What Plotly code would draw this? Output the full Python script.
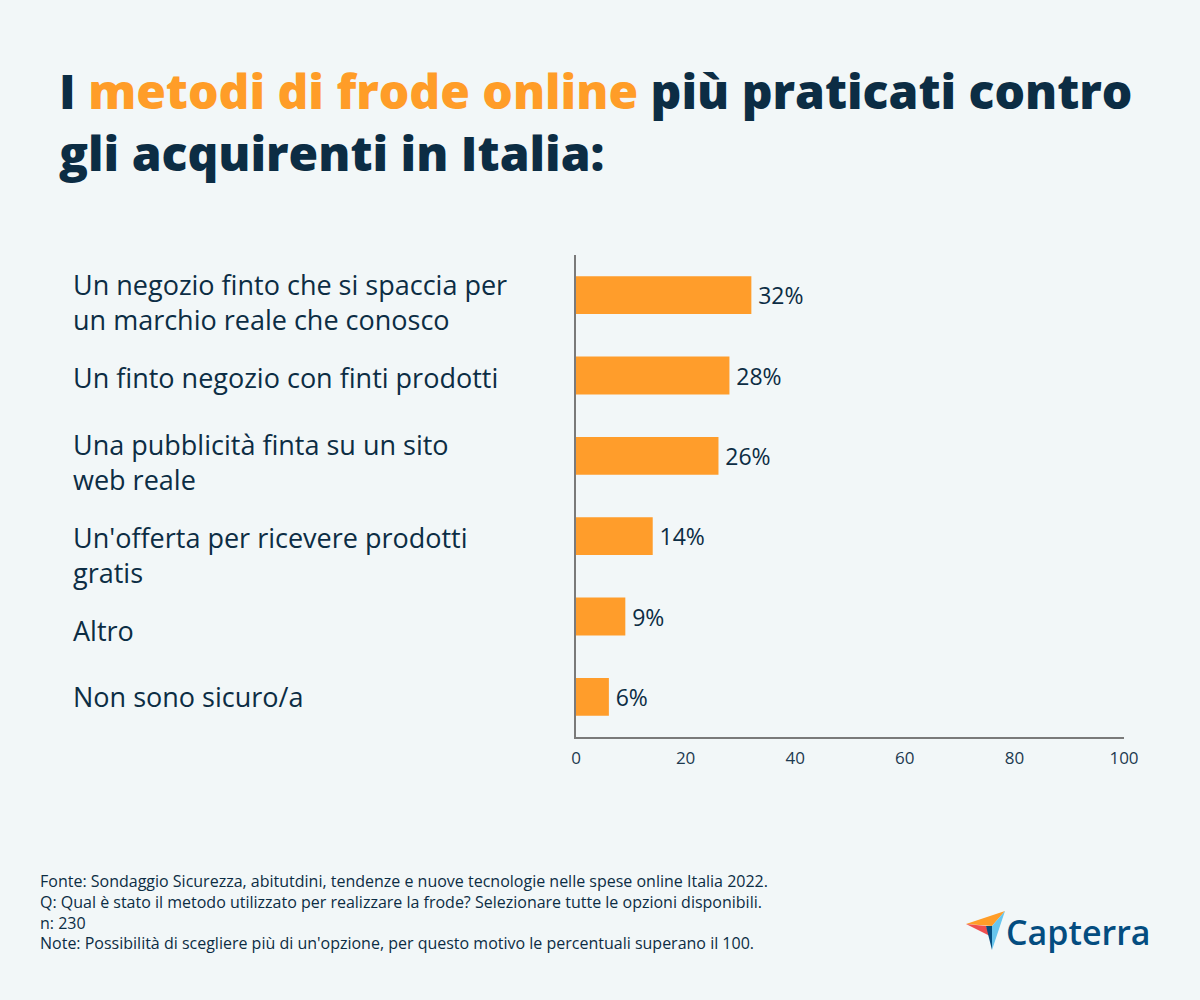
import plotly.graph_objects as go

categories = [
    "Un negozio finto che si spaccia per<br>un marchio reale che conosco",
    "Un finto negozio con finti prodotti",
    "Una pubblicità finta su un sito<br>web reale",
    "Un'offerta per ricevere prodotti<br>gratis",
    "Altro",
    "Non sono sicuro/a",
]
values = [32, 28, 26, 14, 9, 6]
tick_vals = [0, 20, 40, 60, 80, 100]

title_line1 = "I <span style='color:#ff9d28'>metodi di frode online</span> più praticati contro"
title_line2 = "gli acquirenti in Italia:"
footer_lines = [
    "Fonte: Sondaggio Sicurezza, abitutdini, tendenze e nuove tecnologie nelle spese online Italia 2022.",
    "Q: Qual è stato il metodo utilizzato per realizzare la frode? Selezionare tutte le opzioni disponibili.",
    "n: 230",
    "Note: Possibilità di scegliere più di un'opzione, per questo motivo le percentuali superano il 100.",
]

BG = "#f2f7f8"
NAVY = "#0c2d44"
ORANGE = "#ff9d2b"
FONT = "Open Sans"

W, H = 1200, 1000
L, R, T, B = 576, 1124, 255, 737


def px(x):
    return (x - L) / (R - L)


def py(y):
    return (B - y) / (B - T)


cat_ids = list(range(len(categories)))

fig = go.Figure()
fig.add_trace(go.Bar(
    x=values,
    y=cat_ids,
    orientation="h",
    width=0.47,
    marker=dict(color=ORANGE, line=dict(width=0)),
    text=[f"\u2009{v}%" for v in values],
    textposition="outside",
    textfont=dict(family=FONT, size=23, color=NAVY),
    cliponaxis=False,
    hoverinfo="skip",
))

fig.update_layout(
    width=W, height=H,
    margin=dict(l=L, r=W - R, t=T, b=H - B, pad=0),
    paper_bgcolor=BG, plot_bgcolor=BG,
    showlegend=False,
    font=dict(family=FONT, color=NAVY),
    xaxis=dict(
        range=[0, 100], tickvals=tick_vals, showgrid=False, zeroline=False,
        showline=True, linecolor="#7a7a7a", linewidth=1.5,
        tickfont=dict(family=FONT, size=17, color="#1d3a50"),
        ticks="", ticklabelstandoff=5, fixedrange=True,
    ),
    yaxis=dict(
        range=[len(categories) - 0.5, -0.5], showticklabels=False, showgrid=False,
        zeroline=False, showline=True, linecolor="#7a7a7a", linewidth=1.5,
        ticks="", fixedrange=True,
    ),
)

# category labels (left aligned)
label_offsets = [6.5, 2, 6.5, 19, 14, 0]
for i, cat in enumerate(categories):
    fig.add_annotation(
        x=px(71), xref="paper", y=i, yref="y",
        text=cat, showarrow=False, xanchor="left", yanchor="middle", align="left",
        yshift=-label_offsets[i],
        font=dict(family=FONT, size=27, color=NAVY),
    )

# title
fig.add_annotation(
    x=px(57), xref="paper", y=py(121), yref="paper",
    text=title_line1 + "<br>" + title_line2, showarrow=False,
    xanchor="left", yanchor="middle", align="left",
    font=dict(family=FONT, size=48, color=NAVY, weight=800),
)

# footer
fig.add_annotation(
    x=px(38), xref="paper", y=py(912), yref="paper",
    text="<br>".join(footer_lines), showarrow=False,
    xanchor="left", yanchor="middle", align="left",
    font=dict(family=FONT, size=16, color=NAVY),
)

# Capterra logo
def poly(points, color):
    path = "M " + " L ".join(f"{px(x)},{py(y)}" for x, y in points) + " Z"
    fig.add_shape(type="path", path=path, xref="paper", yref="paper",
                  fillcolor=color, line=dict(width=0), layer="above")

poly([(966, 924), (1005, 911), (992, 926)], "#ff9d28")
poly([(1005, 911), (992, 926), (992, 950)], "#68c5ed")
poly([(966, 924), (986, 926), (990, 936)], "#ef4e4e")
poly([(986, 926), (992, 926), (992, 950)], "#044d80")

fig.add_annotation(
    x=px(1004), xref="paper", y=py(932), yref="paper",
    text="Capterra", showarrow=False, xanchor="left", yanchor="middle",
    font=dict(family=FONT, size=34, color="#044d80", weight=600),
)

fig.write_html(
    "out.html",
    config={"displayModeBar": False},
    post_script="document.body.style.margin='0';document.body.style.overflow='hidden';",
)
